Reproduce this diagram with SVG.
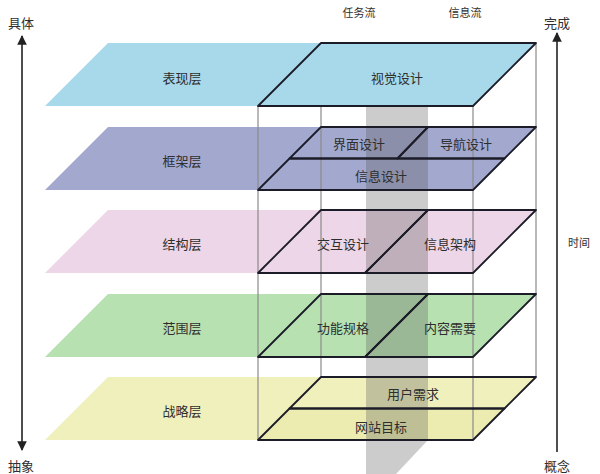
<svg xmlns="http://www.w3.org/2000/svg" width="600" height="474" viewBox="0 0 600 474">
<style>
text{font-family:"Noto Sans CJK SC","Noto Sans",sans-serif;fill:#2e2e2e;text-anchor:middle;dominant-baseline:central}
.lbl{font-size:13px}
.sm{font-size:11px}
.ol{fill:none;stroke:#1c1c28;stroke-width:1.8;stroke-linejoin:round}
.fr{stroke:#8a8a8a;stroke-width:1.2;fill:none}
.ax{stroke:#222;stroke-width:1.6;fill:none}
</style>
<defs>
<marker id="ah" viewBox="0 0 10 10" refX="9" refY="5" markerWidth="6" markerHeight="6" orient="auto-start-reverse">
<path d="M0,0 L10,5 L0,10 z" fill="#222"/>
</marker>
</defs>
<rect width="600" height="474" fill="#fff"/>

<!-- layer fills (bottom four) -->
<g id="layer-kuangjia">
<polygon points="108,127 536,127 473,190 45,190" fill="#a3a8cf"/>
</g>
<g id="layer-jiegou">
<polygon points="108,210 536,210 473,273 45,273" fill="#ecd6e7"/>
</g>
<g id="layer-fanwei">
<polygon points="108,294 536,294 473,357 45,357" fill="#b8e1b2"/>
</g>
<g id="layer-zhanlue">
<polygon points="108,377 536,377 473,440 45,440" fill="#f0f0bc"/>
<polygon points="289.5,408.5 504.5,408.5 473,440 258,440" fill="#ececb0"/>
</g>

<!-- task flow band -->
<g id="band">
<polygon points="366,43 428,43 428,440 396,474 366,474" fill="#555" opacity="0.3"/>
</g>

<!-- frame verticals -->
<g id="frame">
<line class="fr" x1="258" y1="106" x2="258" y2="440"/>
<line class="fr" x1="473" y1="106" x2="473" y2="440"/>
<line class="fr" x1="321" y1="43" x2="321" y2="377"/>
<line class="fr" x1="536" y1="43" x2="536" y2="377"/>
</g>

<!-- outlines -->
<g id="cells">
<g id="cell-jiemian"><polygon class="ol" points="321,127 428,127 397.5,158.5 289.5,158.5"/></g>
<g id="cell-daohang"><polygon class="ol" points="428,127 536,127 504.5,158.5 397.5,158.5"/></g>
<g id="cell-xinxisheji"><polygon class="ol" points="289.5,158.5 504.5,158.5 473,190 258,190"/></g>
<g id="cell-jiaohu"><polygon class="ol" points="321,210 428,210 365,273 258,273"/></g>
<g id="cell-xinxijiagou"><polygon class="ol" points="428,210 536,210 473,273 365,273"/></g>
<g id="cell-gongneng"><polygon class="ol" points="321,294 428,294 365,357 258,357"/></g>
<g id="cell-neirong"><polygon class="ol" points="428,294 536,294 473,357 365,357"/></g>
<g id="cell-yonghu"><polygon class="ol" points="321,377 536,377 504.5,408.5 289.5,408.5"/></g>
<g id="cell-wangzhan"><polygon class="ol" points="289.5,408.5 504.5,408.5 473,440 258,440"/></g>
</g>

<!-- top layer -->
<g id="layer-biaoxian">
<polygon points="108,43 536,43 473,106 45,106" fill="#a8d9ea"/>
<polygon class="ol" points="321,43 536,43 473,106 258,106"/>
<text class="lbl" x="182" y="77">表现层</text>
<text class="lbl" x="397" y="77">视觉设计</text>
</g>

<!-- labels -->
<g id="labels">
<text class="lbl" x="182" y="160">框架层</text>
<text class="lbl" x="182" y="243">结构层</text>
<text class="lbl" x="182" y="327">范围层</text>
<text class="lbl" x="182" y="410">战略层</text>
<text class="lbl" x="359" y="143">界面设计</text>
<text class="lbl" x="466" y="143">导航设计</text>
<text class="lbl" x="381" y="175">信息设计</text>
<text class="lbl" x="343" y="243">交互设计</text>
<text class="lbl" x="450" y="243">信息架构</text>
<text class="lbl" x="343" y="327">功能规格</text>
<text class="lbl" x="450" y="327">内容需要</text>
<text class="lbl" x="413" y="393">用户需求</text>
<text class="lbl" x="381" y="426">网站目标</text>
<text class="sm" x="359" y="12">任务流</text>
<text class="sm" x="465" y="12">信息流</text>
<text class="lbl" x="21" y="22">具体</text>
<text class="lbl" x="21" y="465">抽象</text>
<text class="lbl" x="557" y="22">完成</text>
<text class="lbl" x="557" y="465">概念</text>
<text class="sm" x="579" y="242">时间</text>
</g>

<!-- axes -->
<g id="connectors">
<line class="ax" x1="22" y1="36" x2="22" y2="450" marker-start="url(#ah)" marker-end="url(#ah)"/>
<line class="ax" x1="557" y1="33" x2="557" y2="452" marker-start="url(#ah)"/>
</g>
</svg>
